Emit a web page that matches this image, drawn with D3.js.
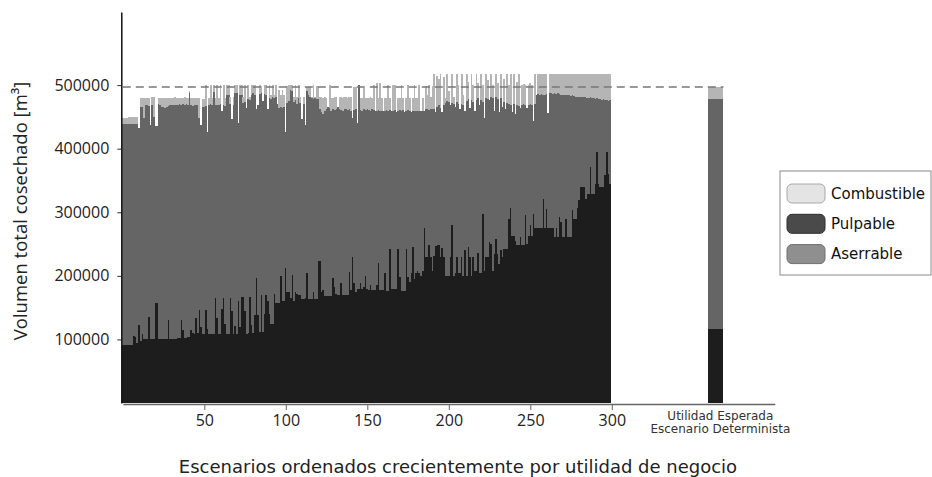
<!DOCTYPE html>
<html>
<head>
<meta charset="utf-8">
<script src="https://cdn.jsdelivr.net/npm/d3@7"></script>
<style>
  body { margin: 0; background: #fff; }
  svg { display: block; }
  .tick-label { font-family: 'Open Sans', sans-serif; font-size: 16px; fill: #222; }
  .axis-title { font-family: 'Open Sans', sans-serif; font-size: 18.5px; fill: #222; }
  .x-title { font-family: 'DejaVu Sans', sans-serif; font-size: 18px; fill: #222; }
  .cat-label { font-family: 'DejaVu Sans', sans-serif; font-size: 12px; fill: #333; }
  .legend-text { font-family: 'DejaVu Sans', sans-serif; font-size: 15px; fill: #111; }
</style>
</head>
<body>
<svg id="chart" width="932" height="477"></svg>
<script>
'use strict';

// volumenes en miles de m3, escenarios 1..300 ordenados por utilidad
var pulpable = [
  92,92,92,92,92,92,92,105,104,95,
  122,97,108,100,100,100,135,101,101,101,
  158,158,101,101,100,101,100,101,130,100,
  100,101,101,100,102,102,130,115,103,103,
  104,104,115,110,108,133,110,147,120,108,
  108,147,117,108,108,108,109,165,133,108,
  108,148,165,124,108,108,165,145,108,121,
  108,160,120,167,167,145,108,110,167,122,
  110,138,197,138,111,170,111,140,170,160,
  140,125,125,172,157,158,158,200,160,160,
  213,175,175,165,202,160,175,172,170,170,
  163,163,165,204,163,163,163,175,163,163,
  223,224,175,178,168,168,168,168,168,197,
  183,172,170,170,189,170,170,170,170,206,
  178,230,189,175,180,180,189,180,182,200,
  180,177,185,177,177,177,185,220,177,177,
  177,205,176,176,243,179,179,179,179,243,
  198,176,176,176,243,198,190,205,245,195,
  205,208,205,199,207,276,230,230,248,230,
  208,232,247,248,248,230,244,230,199,199,
  199,229,280,199,205,230,205,205,229,199,
  240,199,245,229,199,230,207,207,236,205,
  205,298,208,230,230,253,250,207,234,258,
  234,218,241,230,242,242,242,290,306,262,
  262,255,248,248,261,248,248,295,250,262,
  280,262,298,275,275,275,275,275,321,275,
  305,275,275,275,275,261,275,261,293,285,
  261,261,290,261,261,261,303,290,290,306,
  319,340,340,340,321,328,328,371,328,328,
  345,395,345,340,340,340,358,395,360,345
];

var aserrable = [
  347,347,347,347,347,347,347,334,335,344,
  310,368,358,348,368,368,332,336,367,349,
  277,277,369,368,366,364,364,364,337,368,
  369,367,368,369,366,368,339,355,366,367,
  364,383,353,357,360,336,358,301,317,358,
  358,320,310,360,362,360,380,303,336,360,
  362,311,303,343,377,376,305,302,360,367,
  379,280,365,317,305,329,356,368,309,363,
  377,346,265,331,375,317,364,346,315,302,
  340,353,357,307,324,313,306,265,304,306,
  214,297,300,327,289,314,302,298,309,302,
  284,307,272,286,322,319,316,303,316,315,
  255,238,283,277,292,294,297,296,292,265,
  278,290,296,293,272,290,292,293,291,256,
  282,218,272,287,260,320,272,280,280,261,
  282,284,275,285,284,282,275,241,282,283,
  282,255,285,284,218,280,281,282,279,217,
  263,284,285,282,217,263,270,253,214,265,
  254,252,254,260,253,183,232,232,213,232,
  255,230,210,218,221,234,213,238,273,276,
  274,240,192,271,261,243,266,257,241,269,
  219,276,233,235,277,243,252,270,243,264,
  271,176,240,250,248,223,232,272,225,223,
  244,240,239,236,232,220,230,180,162,196,
  208,200,220,219,203,221,222,174,214,207,
  190,207,146,195,209,211,210,211,163,210,
  181,181,212,212,211,226,211,226,193,200,
  224,223,195,223,223,222,181,193,192,176,
  163,141,142,141,160,152,152,110,151,151,
  133,84,133,138,137,138,118,82,115,131
];

var combustible = [
  10,10,10,10,11,11,11,11,11,11,
  0,14,13,31,11,12,13,0,13,31,
  0,0,10,11,14,15,15,15,13,12,
  11,12,12,11,12,10,11,10,12,10,
  12,3,12,13,12,11,12,32,0,12,
  12,33,0,12,30,12,11,12,31,12,
  30,0,32,13,15,16,12,0,14,12,
  13,0,15,16,10,26,0,22,6,15,
  13,16,0,0,14,11,0,14,15,0,
  20,7,18,5,19,0,29,19,29,18,
  0,26,25,8,9,7,23,12,21,9,
  0,12,0,7,12,15,3,22,3,20,
  19,19,23,25,21,18,0,36,20,18,
  20,19,0,18,20,20,19,18,19,19,
  21,0,36,35,0,0,19,20,33,19,
  18,19,21,18,39,0,43,19,44,20,
  0,20,19,40,19,0,40,39,0,20,
  19,40,19,0,20,39,20,0,21,40,
  21,20,41,0,20,0,36,23,39,20,
  36,55,0,49,41,53,0,44,8,42,
  17,0,45,12,0,44,29,0,47,16,
  0,42,27,0,41,27,0,40,24,0,
  41,26,0,37,30,0,35,21,0,36,
  25,0,37,0,36,0,45,30,49,0,
  47,0,37,50,0,31,32,31,0,31,
  33,31,0,47,0,32,33,32,34,33,
  32,0,31,31,32,31,32,31,32,33,
  33,34,33,34,34,35,34,35,36,36,
  36,37,36,37,37,38,38,37,39,39,
  40,39,40,40,41,40,42,41,43,42
];

// escenario determinista (utilidad esperada), miles de m3
var detPulpable = 116;
var detAserrable = 362;
var detCombustible = 19;

var xTicks = [50, 100, 150, 200, 250, 300];
var yTicks = [100000, 200000, 300000, 400000, 500000];
var detLabel = ['Utilidad Esperada', 'Escenario Determinista'];
var legendNames = ['Combustible', 'Pulpable', 'Aserrable'];

var keys = ['pulpable', 'aserrable', 'combustible'];
var barColor = { pulpable: '#1d1d1d', aserrable: '#656565', combustible: '#b5b5b5' };
var legendFill = { Combustible: '#e4e4e4', Pulpable: '#4a4a4a', Aserrable: '#8f8f8f' };
var legendStroke = { Combustible: '#a8a8a8', Pulpable: '#2e2e2e', Aserrable: '#6e6e6e' };

var rows = pulpable.map(function (p, i) {
  return { idx: i + 1, pulpable: p * 1000, aserrable: aserrable[i] * 1000, combustible: combustible[i] * 1000 };
});
var detRow = { idx: 'det', pulpable: detPulpable * 1000, aserrable: detAserrable * 1000, combustible: detCombustible * 1000 };

var svg = d3.select('#chart');

// x: scenario index (the axis keeps going to leave room for the deterministic bar)
var x = d3.scaleLinear().domain([0, 400]).range([122.8, 774.8]);
var y = d3.scaleLinear().domain([0, 615000]).range([403, 12]);
var detSpan = [359, 368.5];

var stack = d3.stack().keys(keys);
var layers = stack(rows);
var detLayers = stack([detRow]);

var gBars = svg.append('g').attr('shape-rendering', 'crispEdges');
layers.forEach(function (layer) {
  gBars.append('g')
    .attr('fill', barColor[layer.key])
    .selectAll('rect')
    .data(layer)
    .enter()
    .append('rect')
    .attr('x', function (d) { return x(d.data.idx - 1) - 1; })
    .attr('width', x(1) - x(0) + 0.2)
    .attr('y', function (d) { return y(d[1]); })
    .attr('height', function (d) { return Math.max(0, y(d[0]) - y(d[1])); });
});

detLayers.forEach(function (layer) {
  gBars.append('rect')
    .attr('fill', barColor[layer.key])
    .attr('x', x(detSpan[0]))
    .attr('width', x(detSpan[1]) - x(detSpan[0]))
    .attr('y', y(layer[0][1]))
    .attr('height', y(layer[0][0]) - y(layer[0][1]));
});

// dashed reference line at the deterministic total
var detTotal = (detPulpable + detAserrable + detCombustible) * 1000;
svg.append('line')
  .attr('x1', x(0))
  .attr('x2', x(detSpan[1]))
  .attr('y1', y(detTotal))
  .attr('y2', y(detTotal))
  .attr('stroke', '#777')
  .attr('stroke-width', 1.5)
  .attr('stroke-dasharray', '8,5');

// x axis
var xAxis = svg.append('g')
  .attr('transform', 'translate(0,' + (y(0) + 1) + ')')
  .call(d3.axisBottom(x).tickValues(xTicks).tickSize(6).tickSizeOuter(0).tickPadding(5));
xAxis.select('.domain').attr('stroke', '#666').attr('stroke-width', 1.5);
xAxis.selectAll('.tick line').attr('stroke', '#666');
xAxis.selectAll('.tick text').attr('class', 'tick-label').attr('fill', null);

svg.append('text')
  .attr('class', 'cat-label')
  .attr('text-anchor', 'middle')
  .selectAll('tspan')
  .data(detLabel)
  .enter()
  .append('tspan')
  .attr('x', x(366.6))
  .attr('y', function (d, i) { return 420 + i * 13; })
  .text(function (d) { return d; });

// y axis
var yAxis = svg.append('g')
  .attr('transform', 'translate(' + (x(0) - 1.5) + ',0)')
  .call(d3.axisLeft(y).tickValues(yTicks).tickFormat(d3.format('d')).tickSize(4).tickSizeOuter(0).tickPadding(8));
yAxis.select('.domain').attr('stroke', '#111').attr('stroke-width', 1.5);
yAxis.selectAll('.tick line').attr('stroke', '#333');
yAxis.selectAll('.tick text').attr('class', 'tick-label').attr('fill', null);

svg.append('text')
  .attr('class', 'axis-title')
  .attr('text-anchor', 'middle')
  .attr('transform', 'translate(27,211)rotate(-90)')
  .text('Volumen total cosechado [m³]');

svg.append('text')
  .attr('class', 'x-title')
  .attr('text-anchor', 'middle')
  .attr('x', 458)
  .attr('y', 473)
  .text('Escenarios ordenados crecientemente por utilidad de negocio');

// legend
var legend = svg.append('g').attr('transform', 'translate(780,171)');
legend.append('rect')
  .attr('width', 151)
  .attr('height', 104)
  .attr('fill', '#fff')
  .attr('stroke', '#8a8a8a');
var item = legend.selectAll('g.item')
  .data(legendNames)
  .enter()
  .append('g')
  .attr('class', 'item')
  .attr('transform', function (d, i) { return 'translate(7,' + (13 + i * 30.3) + ')'; });
item.append('rect')
  .attr('width', 38)
  .attr('height', 19)
  .attr('rx', 5)
  .attr('fill', function (d) { return legendFill[d]; })
  .attr('stroke', function (d) { return legendStroke[d]; });
item.append('text')
  .attr('class', 'legend-text')
  .attr('x', 44)
  .attr('y', 9.5)
  .attr('dy', '0.35em')
  .text(function (d) { return d; });
</script>
</body>
</html>
